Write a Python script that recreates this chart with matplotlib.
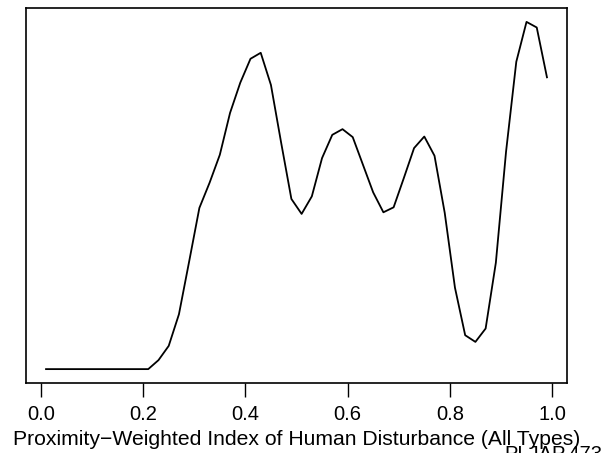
import numpy as np
import matplotlib
matplotlib.use("Agg")
import matplotlib.pyplot as plt

plt.rcParams['font.family'] = ['Liberation Sans', 'DejaVu Sans']

# density estimate, 50 points at 0.01 .. 0.99
x = np.round(np.arange(0.01, 1.0, 0.02), 2)
dens = [0, 0, 0, 0, 0, 0, 0, 0, 0, 0,
        0, 0.09, 0.233, 0.55, 1.08, 1.617, 1.87, 2.15, 2.57, 2.873,
        3.113, 3.173, 2.85, 2.27, 1.707, 1.557, 1.733, 2.117, 2.35, 2.407,
        2.327, 2.05, 1.773, 1.573, 1.623, 1.917, 2.217, 2.333, 2.14, 1.567,
        0.817, 0.34, 0.273, 0.407, 1.067, 2.183, 3.083, 3.483, 3.427, 2.927]
xticks = [0.0, 0.2, 0.4, 0.6, 0.8, 1.0]
xlabel = "Proximity\u2212Weighted Index of Human Disturbance (All Types)"
tag = "PLJAP.473"

W, H = 602, 453
FS = 14.5
fig = plt.figure(figsize=(W / 100, H / 100), dpi=100)
ax = fig.add_axes([26 / W, (H - 383) / H, (567 - 26) / W, (383 - 8) / H])

ax.plot(x, dens, color='black', lw=1.3)

# R style 4% padding
def pad(v):
    lo, hi = min(v), max(v)
    r = hi - lo
    return lo - 0.04 * r, hi + 0.04 * r

ax.set_xlim(pad(x))
ax.set_ylim(pad(dens))

ax.set_yticks([])
ax.set_xticks(xticks)
ax.set_xticklabels(["%.1f" % t for t in xticks], fontsize=FS)
ax.tick_params(axis='x', length=10, width=1, pad=5.5, direction='out')
for s in ax.spines.values():
    s.set_linewidth(1.2)

fig.text(297 / W, 8 / H, xlabel, ha='center', va='baseline', fontsize=15.2)
fig.text(1.0, -6.5 / H, tag, ha='right', va='baseline', fontsize=FS)

fig.savefig("out.png", dpi=100)
